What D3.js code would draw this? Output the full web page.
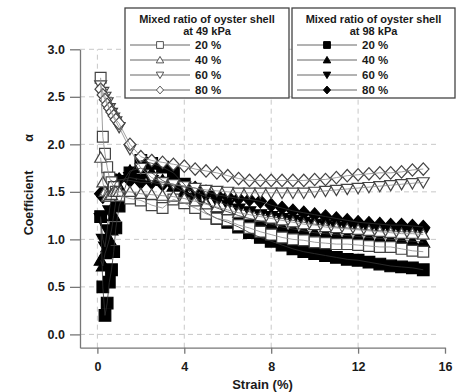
<!DOCTYPE html>
<html><head><meta charset="utf-8">
<script src="https://cdn.jsdelivr.net/npm/d3@7"></script>
<style>
body{margin:0;background:#fff}
svg{display:block}
text{font-family:"Liberation Sans",Arial,Helvetica,sans-serif;font-weight:bold;fill:#1a1a1a}
</style>
</head><body>
<svg id="c" width="457" height="392"></svg>
<script>
// ---- data ----
const strain = [0.15,0.25,0.35,0.45,0.55,0.65,0.75,0.85,1.0,
  1.5,2,2.5,3,3.5,4,4.5,5,5.5,6,6.5,7,7.5,8,8.5,9,9.5,10,10.5,11,11.5,12,12.5,13,13.5,14,14.5,15];

// 49 kPa (open markers)
const sq49  = [2.70,2.08,1.90,1.76,1.65,1.60,1.55,1.50,1.46, 1.43,1.41,1.36,1.33,1.42,1.38,1.33,1.27,1.22,1.20,1.15,1.12,1.08,1.05,1.02,1.00,0.99,0.97,0.96,0.95,0.95,0.94,0.93,0.92,0.92,0.90,0.88,0.87];
const tri49 = [1.86,1.60,1.50,1.45,1.45,1.47,1.50,1.50,1.50, 1.50,1.48,1.47,1.46,1.45,1.43,1.40,1.37,1.34,1.31,1.28,1.26,1.24,1.22,1.20,1.18,1.16,1.15,1.13,1.12,1.11,1.10,1.09,1.08,1.07,1.06,1.06,1.05];
const dtri49= [2.62,2.55,2.50,2.44,2.38,2.33,2.28,2.24,2.18, 1.95,1.75,1.65,1.60,1.58,1.56,1.54,1.52,1.51,1.50,1.49,1.49,1.49,1.49,1.49,1.49,1.49,1.50,1.51,1.52,1.53,1.54,1.55,1.56,1.57,1.58,1.59,1.60];
const dia49 = [2.58,2.52,2.47,2.42,2.38,2.34,2.30,2.26,2.22, 2.00,1.87,1.83,1.81,1.79,1.77,1.74,1.72,1.70,1.67,1.64,1.62,1.62,1.62,1.62,1.62,1.62,1.63,1.63,1.65,1.67,1.68,1.69,1.70,1.70,1.71,1.73,1.74];

// 98 kPa (filled markers)
const sq98  = [1.24,0.50,0.20,0.33,0.55,0.68,0.87,1.12,1.35, 1.70,1.83,1.80,1.76,1.70,1.58,1.42,1.28,1.22,1.18,1.13,1.07,1.02,0.98,0.94,0.90,0.87,0.85,0.83,0.81,0.79,0.78,0.76,0.74,0.72,0.71,0.70,0.68];
const tri98 = [0.78,0.72,0.85,0.92,1.00,1.10,1.25,1.40,1.55, 1.72,1.75,1.70,1.62,1.56,1.50,1.44,1.38,1.33,1.29,1.25,1.22,1.19,1.16,1.13,1.11,1.09,1.07,1.06,1.05,1.04,1.03,1.02,1.01,1.00,0.99,0.98,0.97];
const dtri98= [1.22,1.00,0.92,1.10,1.30,1.45,1.55,1.60,1.62, 1.65,1.63,1.62,1.60,1.58,1.55,1.50,1.45,1.40,1.36,1.32,1.29,1.26,1.24,1.22,1.20,1.18,1.16,1.15,1.13,1.12,1.11,1.10,1.09,1.09,1.08,1.08,1.07];
const dia98 = [1.48,1.45,1.50,1.55,1.60,1.62,1.60,1.62,1.63, 1.62,1.60,1.60,1.58,1.57,1.56,1.54,1.50,1.47,1.45,1.43,1.42,1.40,1.36,1.33,1.30,1.28,1.26,1.24,1.22,1.20,1.18,1.17,1.16,1.15,1.15,1.14,1.13];

const xTicks = [0,4,8,12,16];
const yTicks = [0.0,0.5,1.0,1.5,2.0,2.5,3.0];
const ratioLabels = ["20 %","40 %","60 %","80 %"];
const legendTitle49 = ["Mixed ratio of oyster shell","at 49 kPa"];
const legendTitle98 = ["Mixed ratio of oyster shell","at 98 kPa"];
const xLabel = "Strain (%)";
const yLabel = "Coefficient";
const yLabelSym = "\u03b1";

// ---- layout ----
const svg = d3.select("#c");
const x = d3.scaleLinear().domain([-0.8,16]).range([80,445]);
const y = d3.scaleLinear().domain([-0.14,3]).range([347.7,49.3]);

// custom marker shapes (size = half-width)
const shapes = {
  square:(s)=>`M${-s},${-s}H${s}V${s}H${-s}Z`,
  tri:(s)=>`M0,${-s*1.05}L${s*1.1},${s*0.85}L${-s*1.1},${s*0.85}Z`,
  dtri:(s)=>`M0,${s*1.05}L${s*1.1},${-s*0.85}L${-s*1.1},${-s*0.85}Z`,
  dia:(s)=>`M0,${-s*1.15}L${s*1.05},0L0,${s*1.15}L${-s*1.05},0Z`
};

const series = [
  {vals:sq98, shape:"square", filled:true, label:ratioLabels[0]},
  {vals:tri98, shape:"tri", filled:true, label:ratioLabels[1]},
  {vals:dtri98, shape:"dtri", filled:true, label:ratioLabels[2]},
  {vals:dia98, shape:"dia", filled:true, label:ratioLabels[3]},
  {vals:sq49, shape:"square", filled:false, label:ratioLabels[0]},
  {vals:tri49, shape:"tri", filled:false, label:ratioLabels[1]},
  {vals:dtri49, shape:"dtri", filled:false, label:ratioLabels[2]},
  {vals:dia49, shape:"dia", filled:false, label:ratioLabels[3]}
];

// grid
const grid = svg.append("g").attr("stroke","#c8c8c8").attr("stroke-width",1).attr("stroke-dasharray","5,4");
grid.selectAll("line.h").data(yTicks).join("line")
  .attr("x1",x.range()[0]).attr("x2",440).attr("y1",d=>y(d)).attr("y2",d=>y(d));
grid.selectAll("line.v").data(xTicks.filter(d=>d<16)).join("line")
  .attr("y1",y.range()[0]).attr("y2",y(3)).attr("x1",d=>x(d)).attr("x2",d=>x(d));

// axes
const yAxis = svg.append("g").attr("transform",`translate(${x.range()[0]},0)`)
  .call(d3.axisLeft(y).tickValues(yTicks).tickFormat(d3.format(".1f")).tickSize(10).tickSizeOuter(0).tickPadding(5));
const xAxis = svg.append("g").attr("transform",`translate(0,${y.range()[0]})`)
  .call(d3.axisBottom(x).tickValues(xTicks).tickSize(6).tickSizeOuter(0).tickPadding(8));
[xAxis,yAxis].forEach(a=>{
  a.select(".domain").attr("stroke","#777").attr("stroke-width",1.3);
  a.selectAll(".tick line").attr("stroke","#777").attr("stroke-width",1.3);
  a.selectAll(".tick text").style("font-size","12.5px").attr("fill","#1a1a1a")
   .style("font-family","'Liberation Sans',Arial,sans-serif").style("font-weight","bold");
});

svg.append("text").attr("x",x(7.6)).attr("y",389).attr("text-anchor","middle").style("font-size","13px").text(xLabel);
svg.append("text").attr("transform","translate(33,203) rotate(-90)").attr("text-anchor","middle").style("font-size","12.5px").text(yLabel);
svg.append("text").attr("transform","translate(33,138) rotate(-90)").attr("text-anchor","middle").style("font-size","12.5px").text(yLabelSym);

// markers
const plot = svg.append("g");
series.forEach(s=>{
  plot.append("g").selectAll("path").data(s.vals.map((v,j)=>[strain[j],v])).join("path")
    .attr("transform",d=>`translate(${x(d[0])},${y(d[1])})`)
    .attr("d",shapes[s.shape](s.filled?5.8:5.4))
    .attr("fill",s.filled?"#000":"#fff")
    .attr("stroke",s.filled?"#000":"#444")
    .attr("stroke-width",1.2);
});
// connecting lines on top
const line = d3.line().x(d=>x(d[0])).y(d=>y(d[1]));
series.forEach(s=>{
  plot.append("path").datum(s.vals.map((v,j)=>[strain[j],v]))
    .attr("d",line).attr("fill","none").attr("stroke",s.filled?"#333":"#888").attr("stroke-width",0.8);
});

// legends
function legend(x0,w,title,list){
  const g = svg.append("g");
  g.append("rect").attr("x",x0).attr("y",8).attr("width",w).attr("height",90)
   .attr("fill","#fff").attr("stroke","#444").attr("stroke-width",1.3);
  const cx = x0+w/2;
  title.forEach((t,k)=>g.append("text").attr("x",cx).attr("y",23+k*11.5).attr("text-anchor","middle").style("font-size","11px").text(t));
  list.forEach((s,k)=>{
    const yy = 45+k*15;
    g.append("line").attr("x1",x0+5).attr("x2",x0+65).attr("y1",yy).attr("y2",yy).attr("stroke","#666").attr("stroke-width",1);
    g.append("path").attr("transform",`translate(${x0+35},${yy})`).attr("d",shapes[s.shape](3.4))
     .attr("fill",s.filled?"#000":"#fff").attr("stroke",s.filled?"#000":"#555").attr("stroke-width",1);
    g.append("text").attr("x",x0+70).attr("y",yy+4).style("font-size","11.5px").text(s.label);
  });
}
legend(125,164,legendTitle49,series.slice(4,8));
legend(292,163,legendTitle98,series.slice(0,4));
</script>
</body></html>
